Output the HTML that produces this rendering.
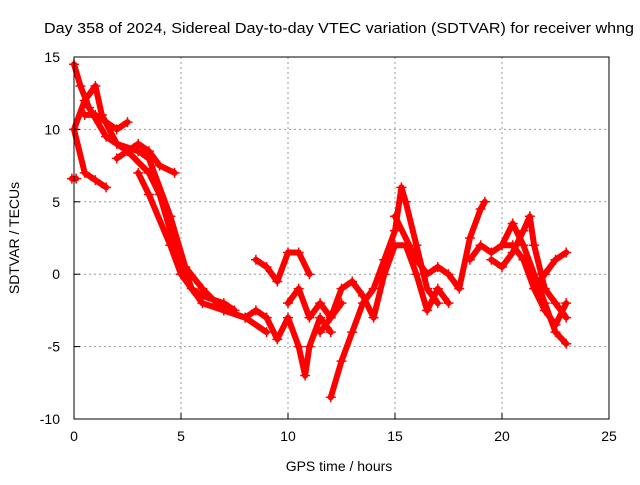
<!DOCTYPE html>
<html><head><meta charset="utf-8"><style>
body{margin:0;background:#fff}
svg text{font-family:"Liberation Sans",sans-serif;font-size:14px;fill:#000}
</style></head><body>
<svg width="640" height="480">
<rect width="640" height="480" fill="#fff"/>
<text x="44" y="33" textLength="590" lengthAdjust="spacingAndGlyphs" style="font-size:15px">Day 358 of 2024, Sidereal Day-to-day VTEC variation (SDTVAR) for receiver whng</text>
<g id="grid"></g>
<g id="marks"></g>
<rect x="74" y="57" width="535" height="362" fill="none" stroke="#000"/>
<g id="axes"></g>
<text x="339" y="471" text-anchor="middle">GPS time / hours</text>
<text transform="translate(19,238) rotate(-90)" text-anchor="middle">SDTVAR / TECUs</text>
</svg>
<script>
const xTicks=[0,5,10,15,20,25];
const yTicks=[-10,-5,0,5,10,15];
const tracks=[
[[0,14.5],[0.3,13],[0.7,11.5],[1.5,9.5],[2.5,8.5],[3.5,7],[4,5.5],[4.5,3],[5,1],[5.5,-1],[6,-1.5],[7,-2],[7.5,-2.5]],
[[0,10],[0.5,12],[1,13],[1.3,11],[2,9],[3,8.5],[3.5,8],[4.5,4],[5.2,0.5],[6,-1],[7,-2.5],[8,-3],[9,-4]],
[[0,10],[0.5,7],[1,6.5],[1.5,6]],
[[0.5,11],[1,11],[2,10],[2.5,10.5]],
[[2,8],[3,9],[3.5,8.5],[4,7.5],[4.7,7]],
[[3,7],[3.5,5.5],[4.5,2],[5,0],[6,-2],[7,-2.5],[8,-3],[8.5,-2.5],[9,-3]],
[[8.5,1],[9,0.5],[9.5,-0.5],[10,1.5],[10.5,1.5],[11,0]],
[[9,-3],[9.5,-4.5],[10,-3],[10.5,-5],[10.8,-7],[11,-5],[11.5,-3],[12,-4]],
[[10,-2],[10.5,-1],[11,-3],[11.5,-2],[12,-3],[12.5,-2]],
[[12,-8.5],[12.5,-6],[13,-4],[13.5,-2],[14,-1],[14.5,1],[15,3],[15.3,6],[15.5,5],[16,2],[16.5,-1],[17,-2]],
[[11.5,-4],[12,-3],[12.5,-1],[13,-0.5],[13.5,-1.5],[14,-3],[14.5,0],[15,2],[15.5,2],[16,0],[16.5,-2.5],[17,-1],[17.5,-2]],
[[15,4],[16,1],[16.5,0],[17,0.5],[17.5,0],[18,-1],[18.5,2.5],[19,4.5],[19.2,5]],
[[18.5,1],[19,2],[19.5,1.5],[20,2],[20.5,3.5],[21,2],[21.5,0],[22,-2],[22.5,-4],[23,-4.8]],
[[19.5,1],[20,0.5],[20.5,1.5],[21,3],[21.3,4],[21.5,2],[22,-1],[22.5,-2],[23,-3]],
[[20,2],[20.5,2],[21,1],[21.5,-1],[22,-2.5],[22.5,-3.5],[23,-2]],
[[21.5,-1],[22,0],[22.5,1],[23,1.5]],
[[-0.1,6.6],[0.1,6.6]]
];
const NS='http://www.w3.org/2000/svg';
const X0=74,X1=609,Y0=419,Y1=57;
function sx(v){return X0+(v-0)/(25-0)*(X1-X0);}
function sy(v){return Y0-(v+10)/(25)*(Y0-Y1);}
const grid=document.getElementById('grid'),axes=document.getElementById('axes'),marks=document.getElementById('marks');
function mk(p,t,a){const e=document.createElementNS(NS,t);for(const k in a)e.setAttribute(k,a[k]);p.appendChild(e);return e;}
xTicks.forEach(v=>{
 if(v>0&&v<25){const g=mk(grid,'line',{x1:sx(v),x2:sx(v),y1:Y1,y2:Y0,stroke:'#999','stroke-dasharray':'2,3'});
 
 }
 const t=mk(axes,'text',{x:sx(v),y:Y0+22,'text-anchor':'middle'});t.textContent=v;
 
 
 mk(axes,'line',{x1:sx(v),x2:sx(v),y1:Y0,y2:Y0-6,stroke:'#000'});
});
yTicks.forEach(v=>{
 if(v>-10&&v<15){const g=mk(grid,'line',{x1:X0,x2:X1,y1:sy(v),y2:sy(v),stroke:'#999','stroke-dasharray':'2,3'});
 
 }
 const t=mk(axes,'text',{x:X0-14,y:sy(v)+5,'text-anchor':'end'});t.textContent=v;
 
 
 mk(axes,'line',{x1:X0,x2:X0+6,y1:sy(v),y2:sy(v),stroke:'#000'});
});
tracks.forEach((tr,i)=>{
 const pl=mk(marks,'polyline',{points:tr.map(p=>sx(p[0])+','+sy(p[1])).join(' '),fill:'none',stroke:'#f00','stroke-width':6,'stroke-linejoin':'round','stroke-linecap':'round'});
 
 
 tr.forEach(p=>{
  const x=sx(p[0]),y=sy(p[1]);
  const m=mk(marks,'path',{d:`M${x-5},${y}h10M${x},${y-5}v10`,stroke:'#f00','stroke-width':1.5});
  
  
 });
});
</script>
</body></html>
